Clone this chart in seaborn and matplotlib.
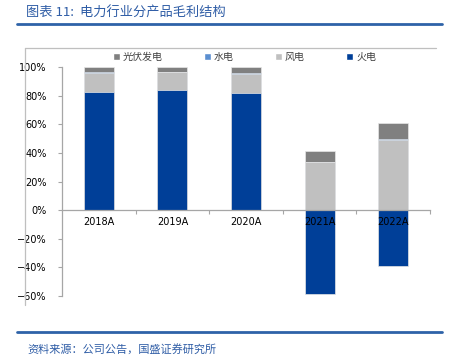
import matplotlib
matplotlib.use("Agg")
import matplotlib.pyplot as plt
import seaborn as sns
import numpy as np
import pandas as pd
from matplotlib.ticker import PercentFormatter, FixedLocator
from matplotlib.lines import Line2D
from matplotlib.patches import Patch

categories = ["2018A", "2019A", "2020A", "2021A", "2022A"]
fire = [0.827, 0.837, 0.816, -0.587, -0.390]   # 火电
wind = [0.130, 0.125, 0.135, 0.333, 0.492]     # 风电
hydro = [0.005, 0.005, 0.005, 0.005, 0.005]    # 水电
solar = [0.038, 0.033, 0.044, 0.072, 0.109]    # 光伏发电
yticks = [-0.6, -0.4, -0.2, 0.0, 0.2, 0.4, 0.6, 0.8, 1.0]

c_fire = "#003F98"
c_wind = "#C0C0C0"
c_hydro = "#5B8FD0"
c_solar = "#808080"

sns.set_style("white")
plt.rcParams["font.family"] = ["Noto Sans CJK SC", "DejaVu Sans"]

fig = plt.figure(figsize=(4.49, 3.61), dpi=100)
ax = fig.add_axes([62/449, 1-296/361, (430-62)/449, (296-67)/361])

fire_a = np.array(fire)
pos_fire = np.clip(fire_a, 0, None)
cum_wind = pos_fire + np.array(wind)
cum_hydro = cum_wind + np.array(hydro)
cum_solar = cum_hydro + np.array(solar)

layers = [(cum_solar, c_solar), (cum_hydro, c_hydro), (cum_wind, c_wind), (fire_a, c_fire)]
for vals, col in layers:
    df = pd.DataFrame({"cat": categories, "v": vals})
    sns.barplot(data=df, x="cat", y="v", order=categories, color=col, saturation=1,
                width=0.41, edgecolor="#E6E6E6", linewidth=0.5, ax=ax, errorbar=None)

ax.set_axisbelow(False)
ax.set_xlim(-0.5, 4.5)
ax.set_ylim(-0.6, 1.0)
ax.set_xlabel("")
ax.set_ylabel("")

for s in ["top", "right"]:
    ax.spines[s].set_visible(False)
ax.spines["bottom"].set_position(("data", 0))
ax.spines["bottom"].set_color("#A6A6A6")
ax.spines["bottom"].set_linewidth(0.9)
ax.spines["left"].set_color("#A6A6A6")
ax.spines["left"].set_linewidth(0.9)

ax.yaxis.set_major_locator(FixedLocator(yticks))
ax.yaxis.set_major_formatter(PercentFormatter(1.0, decimals=0))
ax.tick_params(axis="y", direction="out", length=3, width=0.8, color="#A6A6A6",
               labelsize=7, labelcolor="#000000", pad=8, left=True)
for lab in ax.get_yticklabels():
    lab.set_family("DejaVu Sans")

ax.set_xticks(range(len(categories)))
ax.set_xticklabels(categories)
ax.tick_params(axis="x", which="major", length=0, labelsize=7, pad=5, labelcolor="#000000")
ax.set_xticks([0.5, 1.5, 2.5, 3.5, 4.5], minor=True)
ax.tick_params(axis="x", which="minor", direction="out", length=3, width=0.8, color="#A6A6A6", bottom=True)
for lab in ax.get_xticklabels():
    lab.set_family("DejaVu Sans")
    lab.set_zorder(5)

handles = [Patch(facecolor=c_solar, label="光伏发电"),
           Patch(facecolor=c_hydro, label="水电"),
           Patch(facecolor=c_wind, label="风电"),
           Patch(facecolor=c_fire, label="火电")]
fig.legend(handles=handles, loc="center left", bbox_to_anchor=(113/449, 1-57/361), ncol=4,
           frameon=False, fontsize=7.2, handlelength=0.7, handleheight=0.7,
           handletextpad=0.3, columnspacing=4.1, labelcolor="#404040", borderaxespad=0,
           borderpad=0)

# outer frame lines
fig.add_artist(Line2D([25/449, 436/449], [1-48/361, 1-48/361], color="#BFBFBF", lw=0.9))
fig.add_artist(Line2D([25/449, 25/449], [1-48/361, 1-305/361], color="#BFBFBF", lw=0.9))

# title and footer
blue = "#2F5DA6"
fig.text(26/449, 1-13/361, "图表 11:  电力行业分产品毛利结构", color=blue, fontsize=9.5,
         style="italic", va="center", ha="left")
fig.add_artist(Line2D([17/449, 442/449], [1-24/361, 1-24/361], color="#2E62A8", lw=2))
fig.add_artist(Line2D([17/449, 442/449], [1-332/361, 1-332/361], color="#2E62A8", lw=2))
fig.text(27/449, 1-349/361, "资料来源：公司公告，国盛证券研究所", color=blue, fontsize=8,
         style="italic", va="center", ha="left")

fig.savefig("out.png", dpi=100)
